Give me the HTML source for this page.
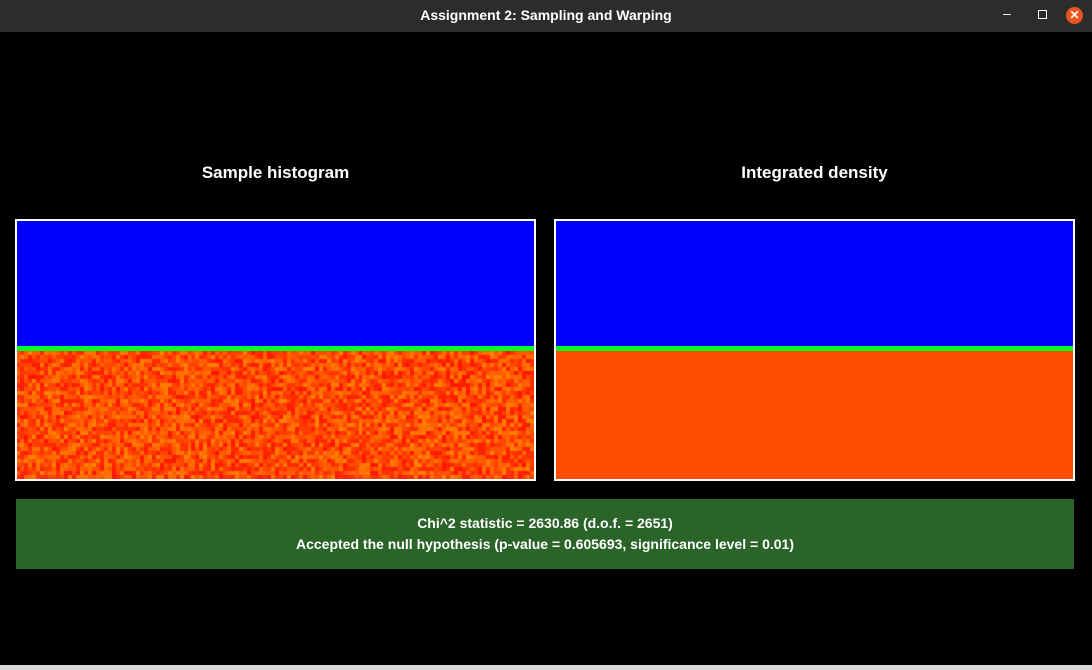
<!DOCTYPE html>
<html><head><meta charset="utf-8"><style>
body{margin:0;width:1092px;height:670px;background:#000;overflow:hidden;font-family:"Liberation Sans",sans-serif;position:relative}
.abs{position:absolute}
#titlebar{left:0;top:0;width:1092px;height:32px;background:#2c2c2c;color:#fff;font-weight:bold;font-size:14px;text-align:center;line-height:31px}
.ptitle{color:#fff;font-weight:bold;font-size:17px;text-align:center;width:521px;top:163px}
.panel{top:219px;width:517px;height:258px;border:2px solid #fff;background:#ff4d00;overflow:hidden}
.blue{left:0;top:0;width:100%;height:125px;background:#0000ff}
.green{left:0;top:125px;width:100%;height:5px;background:#00ff22}
#result{left:16px;top:499px;width:1058px;height:70px;background:#2a6428;color:#fff;font-weight:bold;font-size:14px;text-align:center;line-height:21px;padding-top:14px;box-sizing:border-box}
#bottom{left:0;top:665px;width:1092px;height:5px;background:#d8d8d8}
</style></head><body>
<div id="titlebar" class="abs">Assignment 2: Sampling and Warping
<span class="abs" style="left:1003px;top:-2px;font-weight:normal">–</span>
<span class="abs" style="left:1038px;top:10px;width:7px;height:7px;border:1px solid #fff"></span>
<span class="abs" style="left:1066px;top:7px;width:17px;height:17px;border-radius:50%;background:#e95420;line-height:17px;font-size:12px">✕</span>
</div>
<div class="abs ptitle" style="left:15px">Sample histogram</div>
<div class="abs ptitle" style="left:554px">Integrated density</div>
<div class="abs panel" style="left:15px">
<div class="abs blue"></div>
<div class="abs green"></div>
<canvas id="hist" class="abs" style="left:0;top:130px" width="517" height="128"></canvas>
</div>
<div class="abs panel" style="left:554px">
<div class="abs blue"></div>
<div class="abs green"></div>
</div>
<div id="result" class="abs">Chi^2 statistic = 2630.86 (d.o.f. = 2651)<br>Accepted the null hypothesis (p-value = 0.605693, significance level = 0.01)</div>
<div id="bottom" class="abs"></div>
<script>
const cols = 130;
const rows = 32;
const densityLevel = [0.5];
// per-cell sample count deviation (texture of the sample histogram)
const cellNoise = [];
let s = 12345;
for (let i = 0; i < cols * rows; i++) { s = (s * 1103515245 + 12345) % 2147483648; cellNoise.push(s / 2147483648); }
const c = document.getElementById('hist').getContext('2d');
const cw = 517 / cols, ch = 128 / rows;
for (let r = 0; r < rows; r++) for (let k = 0; k < cols; k++) {
  const v = cellNoise[r * cols + k];
  const g = Math.round(20 + v * 110);
  c.fillStyle = 'rgb(255,' + g + ',0)';
  c.fillRect(Math.floor(k * cw), Math.floor(r * ch), Math.ceil(cw) + 1, Math.ceil(ch));
}
</script>
</body></html>
